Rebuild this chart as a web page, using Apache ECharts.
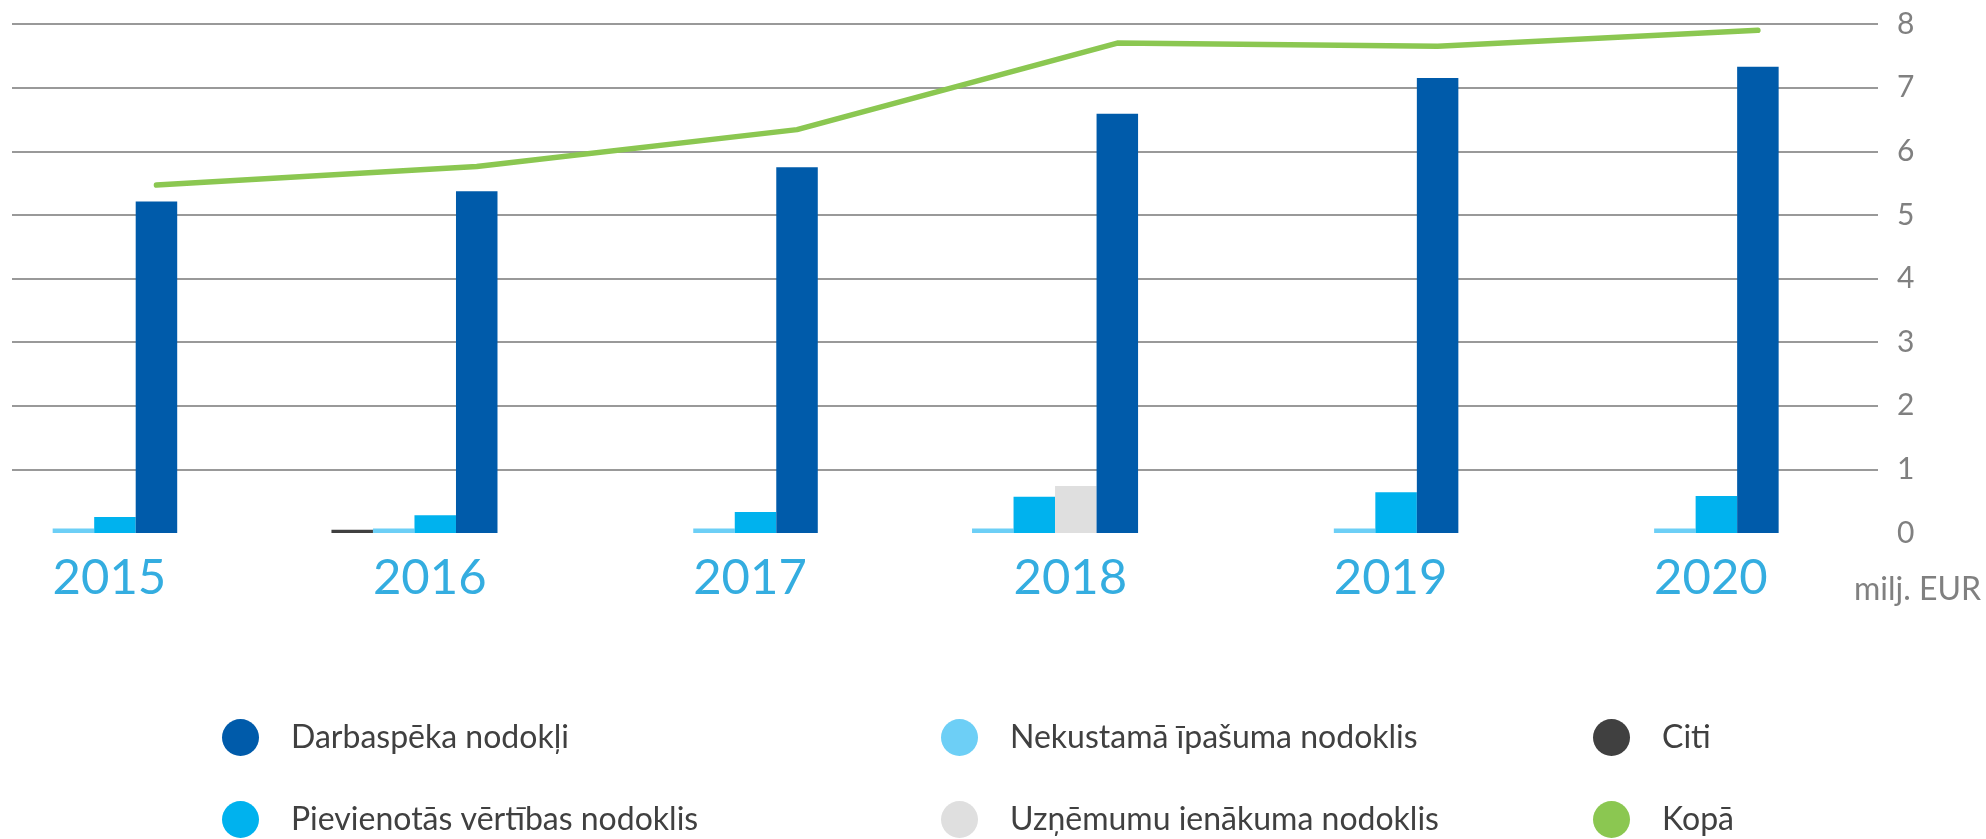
<!DOCTYPE html>
<html>
<head>
<meta charset="utf-8">
<script src="https://cdn.jsdelivr.net/npm/echarts@6/dist/echarts.min.js"></script>
<style>
html,body{margin:0;padding:0;background:#fff;}
#chart{width:1986px;height:839px;}
</style>
</head>
<body>
<div id="chart"></div>
<script>
// ---- data ----
const years = ['2015', '2016', '2017', '2018', '2019', '2020'];
const darbaspeka = [5.21, 5.37, 5.75, 6.59, 7.15, 7.33];
const pievienotas = [0.25, 0.28, 0.33, 0.57, 0.64, 0.58];
const nekustama = [0.07, 0.07, 0.07, 0.07, 0.07, 0.07];
const uznemumu = [0, 0, 0, 0.74, 0, 0];
const citi = [0, 0.05, 0, 0, 0, 0];
const kopa = [5.47, 5.76, 6.34, 7.70, 7.65, 7.90];
const yTicks = [0, 1, 2, 3, 4, 5, 6, 7, 8];
const legendNames = [
  ['Darbaspēka nodokļi', 'Pievienotās vērtības nodoklis'],
  ['Nekustamā īpašuma nodoklis', 'Uzņēmumu ienākuma nodoklis'],
  ['Citi', 'Kopā']
];

const FONT = 'Lato';
const BAR_UNITS = 0.1296; // bar width in category units

// left-to-right bar order inside a year group (zero bars are skipped)
const order = [citi, nekustama, pievienotas, uznemumu, darbaspeka];

function makeBar(name, arr, color) {
  const idx = order.indexOf(arr);
  return {
    type: 'custom',
    name: name,
    itemStyle: { color: color },
    encode: { x: 0, y: 1 },
    data: arr.map((v, i) => [i, v]),
    renderItem: function (params, api) {
      const i = api.value(0), v = api.value(1);
      if (!v) return null;
      let slots = 0;
      for (let k = idx + 1; k < order.length; k++) if (order[k][i] > 0) slots++;
      const w = api.size([BAR_UNITS, 0])[0];
      const top = api.coord([i, v]);
      const base = api.coord([i, 0]);
      return {
        type: 'rect',
        shape: { x: top[0] - w / 2 - slots * w, y: top[1], width: w, height: base[1] - top[1] },
        style: { fill: color }
      };
    }
  };
}

const colLeft = [222, 941, 1593];
const rowTop = [719, 801];
const legends = [];
legendNames.forEach((col, c) => {
  col.forEach((name, r) => {
    legends.push({
      orient: 'horizontal',
      left: colLeft[c],
      top: rowTop[r],
      padding: 0,
      itemWidth: 37,
      itemHeight: 37,
      data: [{ name: name, icon: 'circle' }],
      textStyle: { fontSize: 32, color: '#404040', fontFamily: FONT, lineHeight: 37, padding: [0, 0, 0, 27] }
    });
  });
});

const chart = echarts.init(document.getElementById('chart'));

chart.setOption({
  animation: false,
  textStyle: { fontFamily: FONT },
  grid: { left: 12, right: 108, top: 24, bottom: 306, outerBoundsMode: 'none' },
  xAxis: {
    type: 'value',
    min: -0.451,
    max: 5.375,
    axisLine: { show: false },
    axisTick: { show: false },
    splitLine: { show: false },
    axisLabel: {
      customValues: [0, 1, 2, 3, 4, 5],
      formatter: v => years[Math.round(v)],
      fontSize: 49,
      color: '#34ADE0',
      fontFamily: FONT,
      verticalAlign: 'middle',
      margin: 45,
      padding: [0, 94, 0, 0]
    }
  },
  yAxis: {
    type: 'value',
    position: 'right',
    min: yTicks[0],
    max: yTicks[yTicks.length - 1],
    interval: 1,
    axisLine: { show: false },
    axisTick: { show: false },
    axisLabel: { fontSize: 30, color: '#808080', margin: 19, fontFamily: FONT },
    splitLine: {
      lineStyle: {
        color: ['rgba(0,0,0,0)', '#999999', '#999999', '#999999', '#999999', '#999999', '#999999', '#999999', '#999999'],
        width: 2
      }
    }
  },
  legend: legends,
  graphic: [{
    type: 'text', right: 5, top: 574,
    style: { text: 'milj. EUR', fontSize: 32, fill: '#808080', fontFamily: FONT }
  }],
  series: [
    makeBar('Citi', citi, '#404040'),
    makeBar('Nekustamā īpašuma nodoklis', nekustama, '#6DCFF6'),
    makeBar('Pievienotās vērtības nodoklis', pievienotas, '#00B2EE'),
    makeBar('Uzņēmumu ienākuma nodoklis', uznemumu, '#DFDFDF'),
    makeBar('Darbaspēka nodokļi', darbaspeka, '#005BAA'),
    {
      type: 'line',
      name: 'Kopā',
      data: kopa.map((v, i) => [i, v]),
      showSymbol: false,
      symbol: 'none',
      itemStyle: { color: '#8BC751' },
      lineStyle: { color: '#8BC751', width: 5.5, cap: 'round', join: 'round' },
      z: 5
    }
  ]
});
</script>
</body>
</html>
